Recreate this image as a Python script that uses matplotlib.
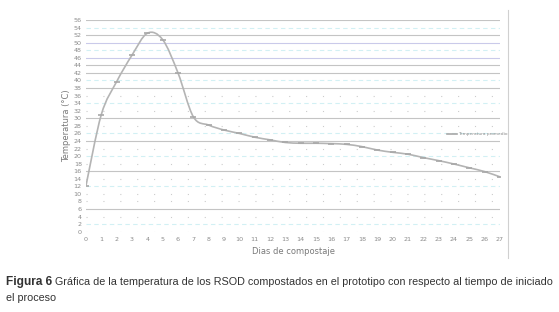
import numpy as np
import matplotlib
matplotlib.use("Agg")
import matplotlib.pyplot as plt
from matplotlib.path import Path
from matplotlib.patches import PathPatch
from matplotlib.lines import Line2D
from matplotlib import font_manager

# Data
days = list(range(28))
temperature = [12.2, 31.0, 39.7, 46.7, 52.5, 50.8, 42.0, 30.4, 28.2, 26.9,
               26.0, 25.0, 24.3, 23.6, 23.4, 23.4, 23.3, 23.1, 22.5, 21.6,
               21.0, 20.5, 19.6, 18.8, 17.9, 16.9, 15.9, 14.5]
y_ticks = list(range(0, 57, 2))
series_name = "Temperatura promedio"
x_label = "Dias de compostaje"
y_label = "Temperatura (°C)"
caption_bold = "Figura 6"
caption_rest = (" Gráfica de la temperatura de los RSOD compostados en el prototipo "
                "con respecto al tiempo de iniciado")
caption_line2 = "el proceso"

names = {f.name for f in font_manager.fontManager.ttflist}
narrow = "Liberation Sans Narrow" if "Liberation Sans Narrow" in names else "Liberation Sans"

fig = plt.figure(figsize=(5.59, 3.12), dpi=100)
ax = fig.add_axes([86 / 559, 1 - 231.7 / 312, 414 / 559, 211.7 / 312])
ax.set_xlim(0, 27)
ax.set_ylim(0, 56)

# gridlines (the scanned image mixes solid and dotted lines)
solid = {56, 52, 44, 42, 38, 30, 24, 16, 6}
bluish = {50, 46}
cyan = {54, 48, 40, 34, 26, 20, 12, 2}
for v in y_ticks:
    if v in solid:
        ax.axhline(v, color="#c4c4c4", lw=0.8, zorder=0)
    elif v in bluish:
        ax.axhline(v, color="#cacaea", lw=0.8, zorder=0)
    elif v in cyan:
        ax.axhline(v, color="#d2f0f4", lw=0.8, ls=(0, (4, 3)), zorder=0)
    else:
        ax.axhline(v, color="#cccccc", lw=0.8, ls=(0, (1, 14.2)), zorder=0)

# smooth line (Excel style) as cubic bezier segments through the points
x = np.array(days, dtype=float)
y = np.array(temperature)
verts = [(x[0], y[0])]
codes = [Path.MOVETO]
for i in range(len(x) - 1):
    p0 = np.array([x[max(i - 1, 0)], y[max(i - 1, 0)]])
    p1 = np.array([x[i], y[i]])
    p2 = np.array([x[i + 1], y[i + 1]])
    p3 = np.array([x[min(i + 2, len(x) - 1)], y[min(i + 2, len(x) - 1)]])
    c1 = p1 + (p2 - p0) / 6
    c2 = p2 - (p3 - p1) / 6
    verts += [tuple(c1), tuple(c2), tuple(p2)]
    codes += [Path.CURVE4] * 3
ax.add_patch(PathPatch(Path(verts, codes), fill=False, ec="#b4b4b4", lw=1.2, zorder=3))
ax.plot(days, temperature, ls="none", marker="_", ms=4, mew=1.2, color="#a8a8a8", zorder=4)

for s in ax.spines.values():
    s.set_visible(False)
ax.set_xticks(days)
ax.set_yticks(y_ticks)
ax.tick_params(length=0, labelsize=4.6, labelcolor="#8a8a8a", pad=4)
ax.tick_params(axis="y", pad=3)
ax.set_xlabel(x_label, fontsize=6, color="#7a7a7a", labelpad=3.5)
ax.set_ylabel(y_label, fontsize=6, color="#7a7a7a", labelpad=2)

# legend
h = Line2D([], [], color="#a8a8a8", lw=1.2)
leg = ax.legend([h], [series_name], loc="center left", bbox_to_anchor=(445 / 559, 1 - 134 / 312),
                bbox_transform=fig.transFigure, frameon=False, fontsize=3.2,
                handlelength=2.2, handletextpad=0.3, borderpad=0, labelcolor="#8a8a8a")

# right frame line
fig.add_artist(Line2D([508 / 559, 508 / 559], [1 - 10 / 312, 1 - 258 / 312],
                      transform=fig.transFigure, color="#d0d0d0", lw=0.8))

# caption
t1 = fig.text(6 / 559, 1 - 285 / 312, caption_bold, fontsize=8.6, fontweight="bold",
              family=narrow, color="#333333", va="baseline")
fig.canvas.draw()
bb = t1.get_window_extent()
fig.text(bb.x1 / 559, 1 - 285 / 312, caption_rest, fontsize=7.77,
         family=narrow, color="#333333", va="baseline")
fig.text(6 / 559, 1 - 301 / 312, caption_line2, fontsize=7.77,
         family=narrow, color="#333333", va="baseline")

fig.savefig("out.png", dpi=100)
